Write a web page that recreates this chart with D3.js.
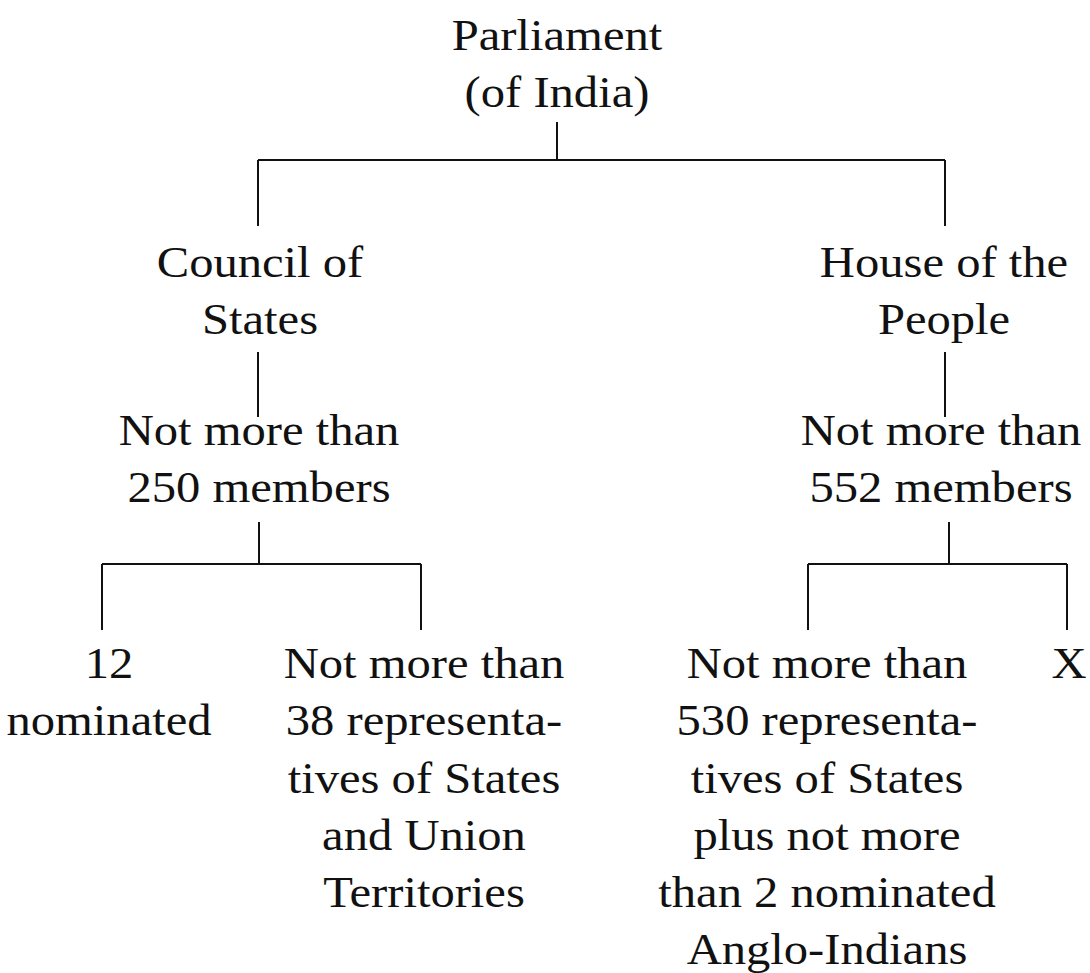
<!DOCTYPE html>
<html lang="en">
  <head>
    <meta charset="utf-8">
    <title>Parliament (of India)</title>
    <script src="https://d3js.org/d3.v7.min.js"></script>
    <style>
      body { margin: 0; background: #fff; }
      .node text {
        font-family: "Liberation Serif", "Times New Roman", serif;
        font-size: 45px;
        fill: #111;
        text-anchor: middle;
      }
      .link { fill: none; stroke: #111; stroke-width: 2; }
    </style>
  </head>
  <body>
    <div id="chart"></div>
    <script>
      "use strict"
      // the content of the diagram
      var nodeIds = ["parl", "council", "house", "csTotal", "hpTotal", "csNom", "csRep", "hpRep", "hpX"];
      var nodeParents = [null, "parl", "parl", "council", "house", "csTotal", "csTotal", "hpTotal", "hpTotal"];
      var nodeLabels = [
        ["Parliament", "(of India)"],
        ["Council of", "States"],
        ["House of the", "People"],
        ["Not more than", "250 members"],
        ["Not more than", "552 members"],
        ["12", "nominated"],
        ["Not more than", "38 representa-", "tives of States", "and Union", "Territories"],
        ["Not more than", "530 representa-", "tives of States", "plus not more", "than 2 nominated", "Anglo-Indians"],
        ["X"]
      ];

      // layout (pixels): text centre, first baseline, and where the connector attaches
      var larguraSVG = 1090, alturaSVG = 973;
      var lineHeight = 57.3;
      var stretchX = 1.08; // the scanned glyphs are a bit wider than normal
      var layout = {
        parl:    {cx: 557,  y: 50,  stemTop: 122, bar: 160, link: 557},
        council: {cx: 260,  y: 277, stemTop: 352, bar: null, link: 258, top: 226},
        house:   {cx: 944,  y: 277, stemTop: 352, bar: null, link: 945, top: 226},
        csTotal: {cx: 259,  y: 445, stemTop: 522, bar: 564, link: 259, top: 417},
        hpTotal: {cx: 941,  y: 445, stemTop: 522, bar: 564, link: 949, top: 417},
        csNom:   {cx: 109,  y: 678, link: 102, top: 630},
        csRep:   {cx: 424,  y: 678, link: 421, top: 630},
        hpRep:   {cx: 827,  y: 678, link: 808, top: 630},
        hpX:     {cx: 1069, y: 678, link: 1067, top: 630}
      };

      var nodes = nodeIds.map(function(id, i) {
        return Object.assign({id: id, parent: nodeParents[i], lines: nodeLabels[i]}, layout[id]);
      });
      var root = d3.stratify().id(d => d.id).parentId(d => d.parent)(nodes);

      var svg = d3.select("#chart").append("svg")
        .attr("width", larguraSVG)
        .attr("height", alturaSVG);

      // connectors: stem down from the parent, a bar across, drops to each child
      var line = d3.line();
      var linkG = svg.append("g");
      root.each(function(n) {
        if (!n.children) return;
        var p = n.data;
        if (n.children.length === 1) {
          var c = n.children[0].data;
          linkG.append("path").attr("class", "link")
            .attr("d", line([[p.link, p.stemTop], [p.link, c.top]]));
          return;
        }
        var xs = n.children.map(c => c.data.link);
        linkG.append("path").attr("class", "link")
          .attr("d", line([[p.link, p.stemTop], [p.link, p.bar]]));
        linkG.append("path").attr("class", "link")
          .attr("d", line([[d3.min(xs), p.bar], [d3.max(xs), p.bar]]));
        n.children.forEach(function(c) {
          linkG.append("path").attr("class", "link")
            .attr("d", line([[c.data.link, p.bar], [c.data.link, c.data.top]]));
        });
      });

      // labels
      var nodeG = svg.selectAll(".node")
        .data(root.descendants())
        .enter().append("g")
          .attr("class", "node")
          .attr("transform", d => "translate(" + d.data.cx + "," + d.data.y + ") scale(" + stretchX + ",1)");
      nodeG.selectAll("text")
        .data(d => d.data.lines)
        .enter().append("text")
          .attr("x", 0)
          .attr("y", (d, i) => i * lineHeight)
          .text(d => d);
    </script>
  </body>
</html>
